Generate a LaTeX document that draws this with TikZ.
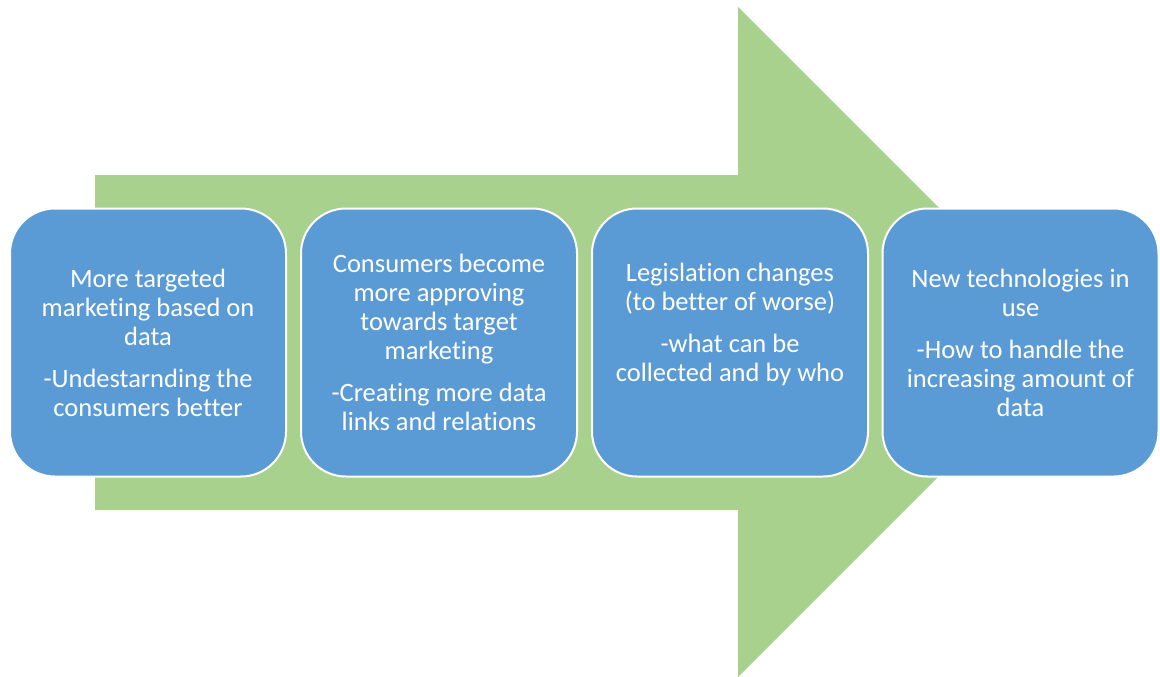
\documentclass[tikz,border=0pt]{standalone}
\usepackage{fontspec}
\setmainfont{Carlito}[Ligatures=NoCommon]
\definecolor{arrowgreen}{HTML}{A9D18E}
\definecolor{boxblue}{HTML}{5B9BD5}
\begin{document}
\begin{tikzpicture}[x=1pt,y=-1pt,
  stepbox/.style={draw=white,line width=2pt,fill=boxblue,rounded corners=45pt,
    minimum width=276pt,minimum height=268pt,inner sep=0pt},
  steptext/.style={text=white,align=center,inner sep=0pt,
    font=\fontsize{26.5pt}{29pt}\selectfont}]
\useasboundingbox (0,0) rectangle (1160,677);
\fill[white] (0,0) rectangle (1160,677);
\fill[arrowgreen] (95,175) -- (738,175) -- (738,7) -- (1073,342) -- (738,677)
  -- (738,510) -- (95,510) -- cycle;
\node[stepbox] (b1) at (148,342.5) {};
\node[stepbox] (b2) at (439,342.5) {};
\node[stepbox] (b3) at (730,342.5) {};
\node[stepbox] (b4) at (1020.5,342.5) {};
\node[steptext] (t1) at (b1.center) {More targeted\\marketing based on\\data\\[13pt]-Undestarnding the\\consumers better};
\node[steptext] (t2) at (b2.center) {Consumers become\\more approving\\towards target\\marketing\\[13pt]-Creating more data\\links and relations};
\node[steptext] (t3) at ([yshift=18pt]b3.center) {Legislation changes\\(to better of worse)\\[13pt]-what can be\\collected and by who};
\node[steptext] (t4) at (b4.center) {New technologies in\\use\\[13pt]-How to handle the\\increasing amount of\\data};
\end{tikzpicture}
\end{document}
